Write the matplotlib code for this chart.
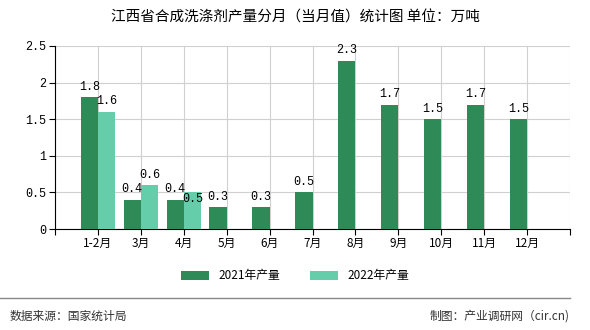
import numpy as np
import matplotlib.pyplot as plt

plt.rcParams['font.family'] = ['Noto Sans CJK SC', 'DejaVu Sans']

months = ['1-2月', '3月', '4月', '5月', '6月', '7月', '8月', '9月', '10月', '11月', '12月']
prod_2021 = [1.8, 0.4, 0.4, 0.3, 0.3, 0.5, 2.3, 1.7, 1.5, 1.7, 1.5]
prod_2022 = [1.6, 0.6, 0.5]

c21 = '#2E8B57'
c22 = '#66CDAA'

fig = plt.figure(figsize=(5.9, 3.3), dpi=100)
ax = fig.add_axes([55 / 590, 1 - 229 / 330, 515 / 590, 183 / 330])

x = np.arange(1, len(months) + 1)
w = 0.4
ax.bar(x - w / 2, prod_2021, w, color=c21, label='2021年产量', zorder=3)
x22 = x[:len(prod_2022)]
ax.bar(x22 + w / 2, prod_2022, w, color=c22, label='2022年产量', zorder=3)

mono = ['Liberation Mono', 'DejaVu Sans Mono']
for xi, v in zip(x, prod_2021):
    ax.text(xi - w / 2, v + 0.06, f'{v}', ha='center', va='bottom', fontsize=8.5, family=mono)
for xi, v in zip(x22, prod_2022):
    dy = 0.06 if v != 0.5 else -0.17
    ax.text(xi + w / 2, v + dy, f'{v}', ha='center', va='bottom', fontsize=8.5, family=mono)

ax.set_xlim(0, 12)
ax.set_ylim(0, 2.5)
ax.set_xticks(np.arange(0, 13))
ax.set_xticklabels([''] + months + [''], fontsize=8.5)
ax.set_yticks([0, 0.5, 1, 1.5, 2, 2.5])
ax.set_yticklabels(['0', '0.5', '1', '1.5', '2', '2.5'], fontsize=8.5, family=mono)
ax.grid(True, color='#d0d0d0', linewidth=0.8, zorder=0)
for s in ['top', 'right']:
    ax.spines[s].set_visible(False)
ax.spines['left'].set_color('black')
ax.spines['bottom'].set_color('black')
ax.tick_params(length=4, width=0.8, pad=2)

fig.text(0.5, 1 - 18 / 330, '江西省合成洗涤剂产量分月（当月值）统计图 单位：万吨',
         ha='center', va='center', fontsize=10.5)
fig.legend(loc='center', bbox_to_anchor=(0.5, 1 - 276 / 330), ncol=2, frameon=False,
           fontsize=8.5, handlelength=2.4, handleheight=0.8, columnspacing=2.5)
fig.add_artist(plt.Line2D([0, 570 / 590], [1 - 298 / 330, 1 - 298 / 330],
                          color='#888888', linewidth=1))
fig.text(10 / 590, 1 - 316 / 330, '数据来源：国家统计局', ha='left', va='center',
         fontsize=8.5, color='#333333')
fig.text(570 / 590, 1 - 316 / 330, '制图：产业调研网（cir.cn)', ha='right', va='center',
         fontsize=8.5, color='#333333')

fig.savefig('out.png', dpi=100)
